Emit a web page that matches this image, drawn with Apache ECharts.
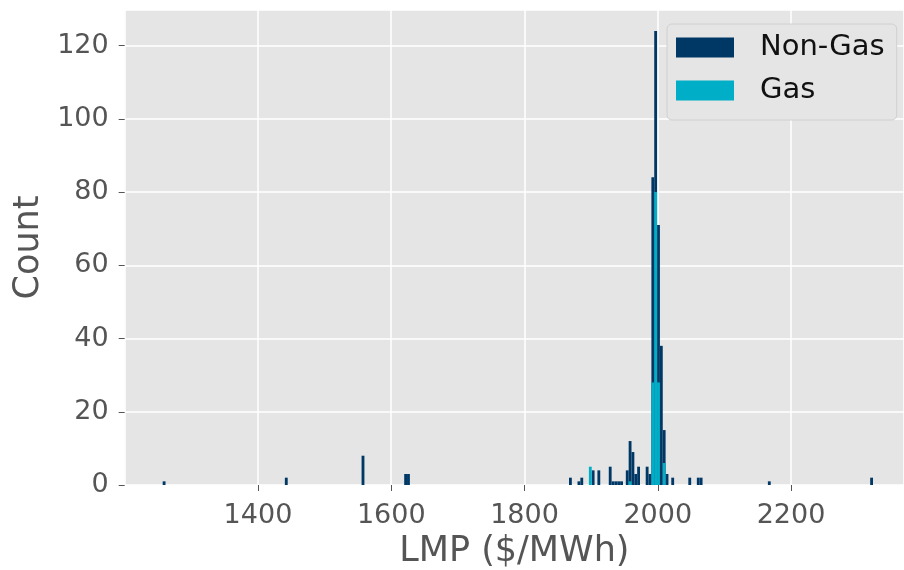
<!DOCTYPE html>
<html>
<head>
<meta charset="utf-8">
<script src="https://cdn.jsdelivr.net/npm/echarts@6/dist/echarts.min.js"></script>
<style>
  html, body { margin: 0; padding: 0; background: #ffffff; }
  #chart { width: 904px; height: 570px; }
</style>
</head>
<body>
<div id="chart"></div>
<script>
// Histogram bins (shared bin grid, LMP in $/MWh)
const binStart = 1257;
const binWidth = 4.264;

// Non-Gas histogram: bin index -> count
const nonGasBins   = [0, 43, 70, 85, 86, 143, 146, 147, 151, 153, 157, 158, 159, 160, 161, 163, 164, 165, 166, 167, 170, 171, 172, 173, 174, 175, 176, 177, 179, 185, 188, 189, 213, 249];
const nonGasCounts = [1, 2,  8,  3,  3,  2,   1,   2,   4,   4,   5,   1,   1,   1,   1,   4,   12,  9,   3,   5,   5,   3,   84,  124, 71,  38,  15,  3,   2,   2,   2,   2,   1,   2];

// Gas histogram: bin index -> count
const gasBins   = [150, 164, 172, 173, 174, 176];
const gasCounts = [5,   1,   28,  80,  28,  6];

// Axis range / ticks
const xRange = [1200, 2369.5];
const xTickStep = 200;
const yRange = [0, 129.7];
const yTickStep = 20;

const seriesNames = ['Non-Gas', 'Gas'];
const colors = ['#003865', '#00AEC7'];

function toRows(bins, counts) {
  return bins.map((k, i) => [binStart + k * binWidth, binStart + (k + 1) * binWidth, counts[i]]);
}

function renderBar(params, api) {
  const p0 = api.coord([api.value(0), api.value(2)]);
  const p1 = api.coord([api.value(1), 0]);
  return {
    type: 'rect',
    shape: { x: p0[0], y: p0[1], width: p1[0] - p0[0], height: p1[1] - p0[1] },
    style: { fill: api.visual('color') }
  };
}

const chart = echarts.init(document.getElementById('chart'), null, { renderer: 'canvas' });
const fontFamily = 'DejaVu Sans';

chart.setOption({
  animation: false,
  textStyle: { fontFamily: fontFamily },
  grid: {
    left: 124.7, top: 10, right: 0, bottom: 85,
    outerBoundsMode: 'none', containLabel: false,
    show: true, backgroundColor: '#E5E5E5', borderWidth: 0
  },
  legend: {
    left: 667, top: 24, orient: 'vertical',
    data: seriesNames.map(n => ({ name: n, icon: 'rect' })),
    itemWidth: 58, itemHeight: 20, itemGap: 14,
    padding: [9, 12, 15, 9],
    backgroundColor: '#E5E5E5',
    borderColor: '#D0D0D0', borderWidth: 1, borderRadius: 5,
    textStyle: { fontFamily: fontFamily, fontSize: 29, color: '#111', padding: [0, 0, 0, 21] }
  },
  xAxis: {
    type: 'value',
    min: xRange[0], max: xRange[1], interval: xTickStep,
    name: 'LMP ($/MWh)', nameLocation: 'middle', nameGap: 49,
    nameTextStyle: { fontFamily: fontFamily, fontSize: 35, color: '#555555' },
    axisLine: { show: false },
    axisTick: { show: true, length: 6, lineStyle: { color: '#555555', width: 1 } },
    axisLabel: { fontFamily: fontFamily, fontSize: 27, color: '#555555', margin: 17,
      showMinLabel: false, showMaxLabel: false, formatter: v => String(v) },
    splitLine: { show: true, lineStyle: { color: '#FFFFFF', width: 1.5 } }
  },
  yAxis: {
    type: 'value',
    min: yRange[0], max: yRange[1], interval: yTickStep,
    name: 'Count', nameLocation: 'middle', nameGap: 76,
    nameTextStyle: { fontFamily: fontFamily, fontSize: 35, color: '#555555' },
    axisLine: { show: false },
    axisTick: { show: true, length: 6, lineStyle: { color: '#555555', width: 1 } },
    axisLabel: { fontFamily: fontFamily, fontSize: 27, color: '#555555', margin: 16,
      showMaxLabel: false, formatter: v => String(v) },
    splitLine: { show: true, lineStyle: { color: '#FFFFFF', width: 1.5 } }
  },
  series: [
    {
      name: seriesNames[0], type: 'custom', renderItem: renderBar,
      itemStyle: { color: colors[0] },
      encode: { x: [0, 1], y: 2 },
      data: toRows(nonGasBins, nonGasCounts), z: 2
    },
    {
      name: seriesNames[1], type: 'custom', renderItem: renderBar,
      itemStyle: { color: colors[1] },
      encode: { x: [0, 1], y: 2 },
      data: toRows(gasBins, gasCounts), z: 3
    }
  ]
});
</script>
</body>
</html>
